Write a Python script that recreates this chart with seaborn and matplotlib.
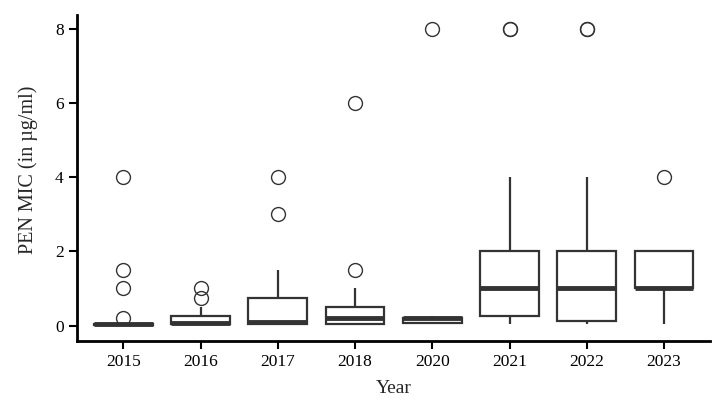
import pandas as pd # data manipulation
import numpy as np # numerical computations
import matplotlib.pyplot as plt # data visualization
import seaborn as sns # statistical data visualization

# MIC values (E-test scale) per year
years = ['2015', '2016', '2017', '2018', '2020', '2021', '2022', '2023']
mic_2015 = [0.016]*4 + [0.023]*3 + [0.032]*5 + [0.047]*3 + [0.064] + [0.19, 1, 1.5, 4]
mic_2016 = [0.016, 0.016, 0.023, 0.032, 0.047, 0.064, 0.064, 0.064, 0.064, 0.094,
            0.125, 0.25, 0.25, 0.25, 0.38, 0.5, 0.75, 1]
mic_2017 = [0.016, 0.023, 0.032, 0.032, 0.032, 0.047, 0.064, 0.094, 0.094, 0.094, 0.094,
            0.125, 0.19, 0.38, 0.5, 0.75, 0.75, 1, 1.5, 3, 4]
mic_2018 = [0.016, 0.016, 0.023, 0.023, 0.032, 0.064, 0.125, 0.19, 0.19, 0.19, 0.25,
            0.38, 0.5, 0.5, 1, 1.5, 6]
mic_2020 = [0.064, 0.064, 0.064, 0.094, 0.19, 0.19, 0.19, 0.19, 0.19, 0.25, 8]
mic_2021 = [0.047, 0.125, 0.19, 0.19, 0.25, 0.25, 0.5, 0.5, 0.75, 1, 1, 1, 1, 1.5,
            2, 2, 2, 3, 4, 8, 8]
mic_2022 = [0.047, 0.064, 0.094, 0.125, 0.125, 0.125, 0.25, 0.5, 0.75, 1, 1, 1, 1, 1.5,
            2, 2, 2, 3, 4, 8, 8]
mic_2023 = [0.047, 0.5, 1, 1, 1, 1, 1, 1, 1.5, 2, 2, 2, 4]
y_ticks = [0, 2, 4, 6, 8]

all_mic = [mic_2015, mic_2016, mic_2017, mic_2018, mic_2020, mic_2021, mic_2022, mic_2023]
df = pd.DataFrame({
    'Year': np.repeat(years, [len(m) for m in all_mic]),
    'MIC': np.concatenate(all_mic),
})

sns.set_style('white')
plt.rcParams['font.family'] = ['Liberation Serif', 'DejaVu Serif']

fig = plt.figure(figsize=(7.19, 4.07), dpi=100)
ax = fig.add_axes([0.107, 0.162, 0.881, 0.801])

ink = '#333333'
sns.boxplot(data=df, x='Year', y='MIC', order=years, color='white', linecolor=ink,
            linewidth=1.6, width=0.76, whis=1.5, showcaps=False, ax=ax,
            medianprops={'linewidth': 3.5, 'color': ink},
            flierprops={'marker': 'o', 'markersize': 10, 'markerfacecolor': 'none',
                        'markeredgecolor': ink, 'markeredgewidth': 1.0})

ax.set_xlim(-0.6, 7.6)
ax.set_ylim(-0.42, 8.38)
ax.set_yticks(y_ticks)
ax.set_xlabel('Year', fontsize=14, labelpad=7)
ax.set_ylabel('PEN MIC (in µg/ml)', fontsize=14.5)
ax.yaxis.set_label_coords(-0.062, 0.525)
ax.tick_params(axis='both', direction='out', length=6, width=1.5, colors='black',
               labelsize=12.5, left=True, bottom=True)
sns.despine(ax=ax)
for side in ['left', 'bottom']:
    ax.spines[side].set_linewidth(2)
    ax.spines[side].set_color('black')

fig.savefig('out.png', dpi=100)
